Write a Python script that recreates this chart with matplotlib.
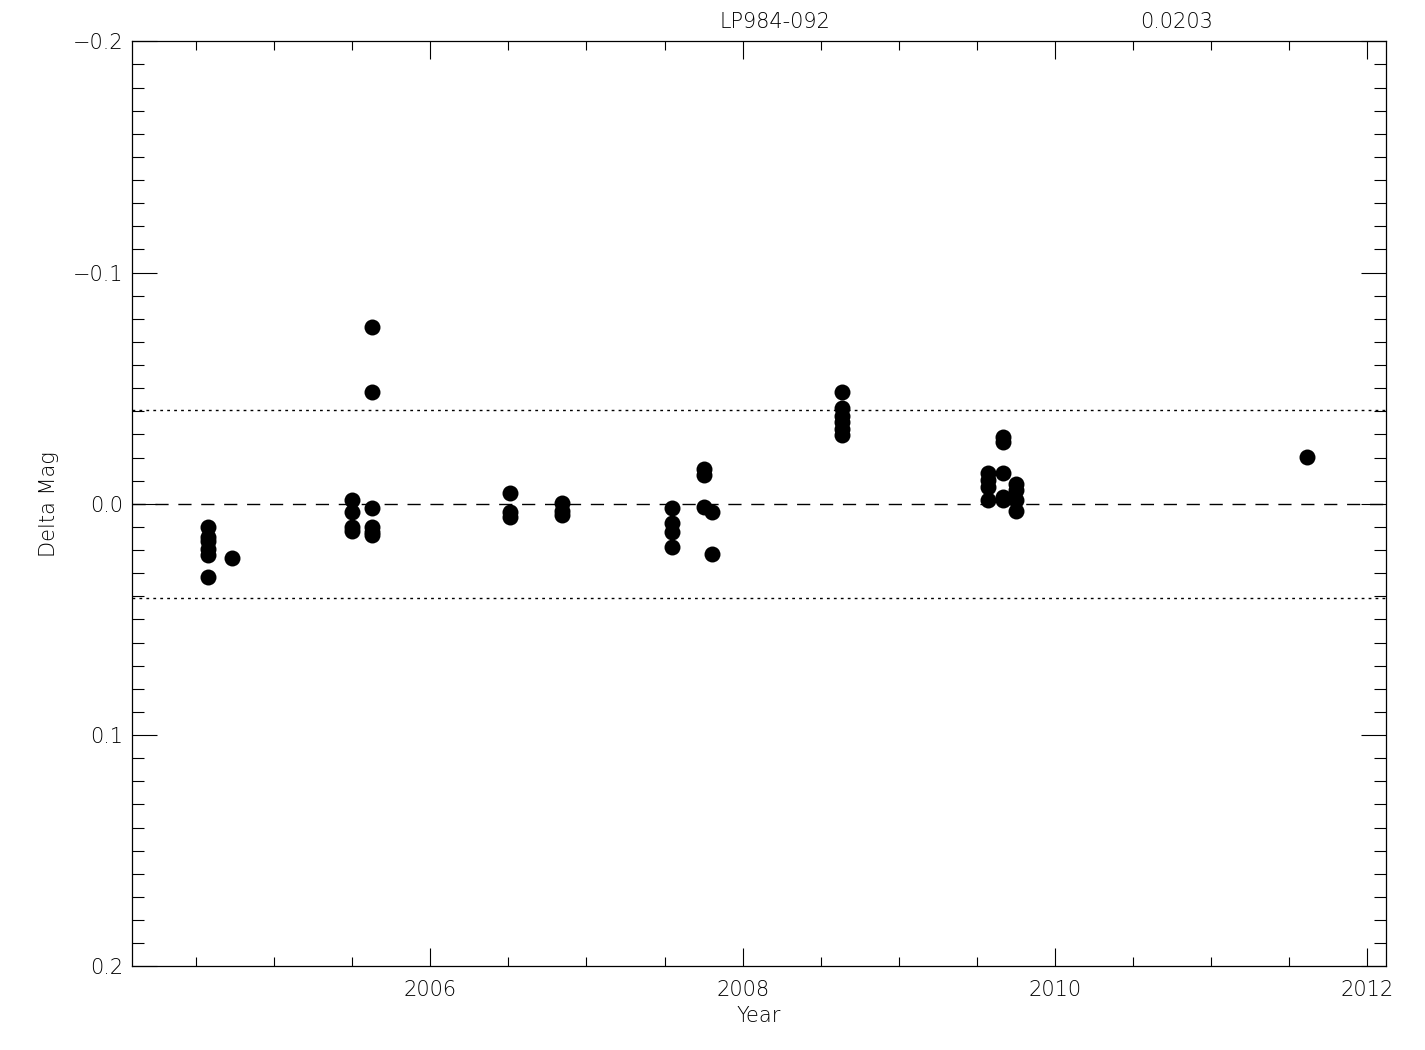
import matplotlib
matplotlib.use('Agg')
import matplotlib.pyplot as plt
from matplotlib.ticker import MultipleLocator, FuncFormatter
import numpy as np

star_name = 'LP984-092'
sigma_label = '0.0203'
sigma = 0.0203

# decimal year of each observation
years = [2004.577, 2004.577, 2004.577, 2004.577, 2004.577, 2004.577, 2004.73,
         2005.497, 2005.497, 2005.497, 2005.497,
         2005.625, 2005.625, 2005.625, 2005.625, 2005.625, 2005.625,
         2006.51, 2006.51, 2006.51,
         2006.845, 2006.845, 2006.845,
         2007.549, 2007.549, 2007.549, 2007.549,
         2007.754, 2007.754, 2007.754,
         2007.805, 2007.805,
         2008.634, 2008.634, 2008.634, 2008.634, 2008.634, 2008.634,
         2009.572, 2009.572, 2009.572, 2009.572,
         2009.668, 2009.668, 2009.668, 2009.668, 2009.668,
         2009.748, 2009.748, 2009.748, 2009.748,
         2011.615]
# delta magnitudes
dmag = [0.0100, 0.0144, 0.0160, 0.0195, 0.0220, 0.0317, 0.0236,
        -0.0016, 0.0035, 0.0100, 0.0117,
        -0.0765, -0.0484, 0.0020, 0.0100, 0.0120, 0.0135,
        -0.0048, 0.0035, 0.0055,
        -0.0005, 0.0030, 0.0050,
        0.0017, 0.0085, 0.0120, 0.0185,
        -0.0150, -0.0125, 0.0012,
        0.0034, 0.0217,
        -0.0482, -0.0415, -0.0380, -0.0355, -0.0325, -0.0297,
        -0.0133, -0.0103, -0.0073, -0.0016,
        -0.0290, -0.0268, -0.0132, -0.0030, -0.0015,
        -0.0086, -0.0060, -0.0016, 0.0030,
        -0.0201]

plt.rcParams['font.family'] = ['DejaVu Sans']
plt.rcParams['font.weight'] = 'light'
plt.rcParams['axes.labelweight'] = 'light'
plt.rcParams['font.size'] = 15

fig = plt.figure(figsize=(14.25, 10.5), dpi=100)
ax = fig.add_axes([0.0924, 0.0797, 0.88, 0.881])

ax.plot(years, dmag, 'o', color='black', markersize=11.5, markeredgewidth=0)

ax.axhline(0.0, color='black', lw=1.0, linestyle=(0, (9.5, 7)))
ax.axhline(2 * sigma, color='black', lw=1.0, linestyle=(0, (2, 3)))
ax.axhline(-2 * sigma, color='black', lw=1.0, linestyle=(0, (2, 3)))

ax.set_xlim(2004.088, 2012.118)
ax.set_ylim(0.2, -0.2)

ax.xaxis.set_major_locator(MultipleLocator(2))
ax.xaxis.set_minor_locator(MultipleLocator(0.5))
ax.yaxis.set_major_locator(MultipleLocator(0.1))
ax.yaxis.set_minor_locator(MultipleLocator(0.01))
ax.yaxis.set_major_formatter(FuncFormatter(lambda v, p: ('%.1f' % v).replace('-', '\u2212') if abs(v) > 1e-9 else '0.0'))

ax.tick_params(which='both', direction='in', top=True, right=True, width=0.8, colors='black')
ax.tick_params(axis='x', which='major', length=13, pad=10)
ax.tick_params(axis='x', which='minor', length=6.5)
ax.tick_params(axis='y', which='major', length=18, pad=6)
ax.tick_params(axis='y', which='minor', length=8.6)
for s in ax.spines.values():
    s.set_linewidth(0.9)

ax.set_xlabel('Year', fontsize=15, labelpad=4)
ax.set_ylabel('Delta Mag', fontsize=15, labelpad=10)

fig.text(0.544, 0.973, star_name, ha='center', va='baseline', fontsize=15)
fig.text(0.826, 0.973, sigma_label, ha='center', va='baseline', fontsize=15)

fig.savefig('out.png', dpi=100)
